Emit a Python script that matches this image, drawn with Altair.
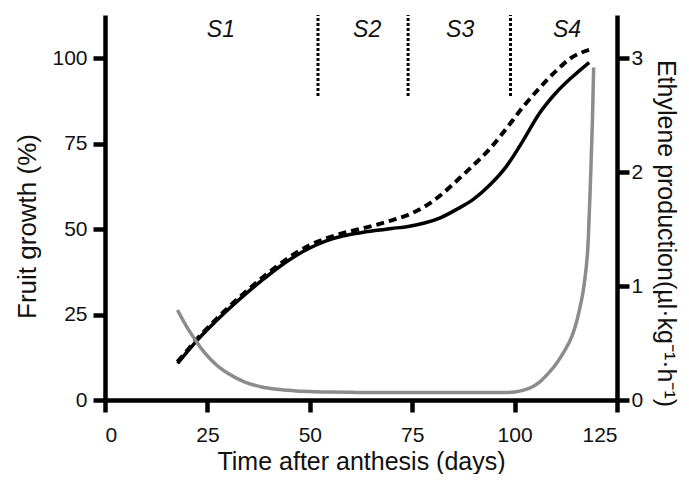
import altair as alt
import pandas as pd

# ---- data ----
days_solid = [17.7, 20, 22, 26, 30, 34, 38, 42, 46, 50, 54, 58, 62, 66, 70, 74, 78, 82, 86, 90, 94, 98, 102, 106, 110, 114, 118.2]
growth_solid = [10.7, 14.0, 16.8, 21.8, 26.4, 30.7, 34.7, 38.5, 41.8, 44.5, 46.6, 48.0, 48.9, 49.6, 50.2, 50.8, 51.8, 53.4, 55.9, 58.8, 63.0, 68.4, 75.8, 83.8, 89.8, 94.5, 98.8]

days_dashed = [17.7, 20, 22, 26, 30, 34, 38, 42, 46, 50, 54, 58, 62, 66, 70, 74, 78, 82, 86, 90, 94, 98, 102, 106, 110, 114, 118.5]
growth_dashed = [11.2, 14.4, 17.2, 22.3, 27.0, 31.3, 35.4, 39.2, 42.6, 45.3, 47.3, 48.8, 50.0, 51.2, 52.6, 54.2, 56.6, 60.0, 64.3, 68.8, 73.6, 79.5, 85.7, 91.2, 96.2, 100.3, 102.6]

days_eth = [17.7, 20, 22, 24, 26, 28, 30, 34, 38, 42, 46, 50, 55, 60, 70, 80, 90, 98, 100, 102, 104, 106, 108, 110, 112, 114, 115, 116, 117, 118, 118.5, 119, 119.3]
ethylene = [0.79, 0.64, 0.53, 0.43, 0.35, 0.285, 0.235, 0.16, 0.117, 0.094, 0.082, 0.075, 0.07, 0.067, 0.065, 0.065, 0.065, 0.066, 0.07, 0.085, 0.11, 0.155, 0.225, 0.31, 0.42, 0.56, 0.67, 0.82, 1.02, 1.42, 1.9, 2.45, 2.92]

stage_bounds = [52, 74, 99]
stage_bound_bottom = 89
stage_labels = ["S1", "S2", "S3", "S4"]
stage_label_x = [28.3, 64.0, 86.7, 112.8]
stage_label_y = 108.4

x_ticks = [0, 25, 50, 75, 100, 125]
left_ticks = [0, 25, 50, 75, 100]
right_ticks = [0, 1, 2, 3]
Y_MAX = 112.7
E_MAX = Y_MAX * 3 / 100

FONT = "Liberation Sans"

df_solid = pd.DataFrame({"x": days_solid, "y": growth_solid})
df_dashed = pd.DataFrame({"x": days_dashed, "y": growth_dashed})
df_eth = pd.DataFrame({"x": days_eth, "e": ethylene})
df_bounds = pd.DataFrame({"x": stage_bounds, "y": [stage_bound_bottom] * len(stage_bounds), "y2": [Y_MAX] * len(stage_bounds)})
df_labels = pd.DataFrame({"x": stage_label_x, "y": [stage_label_y] * len(stage_labels), "t": stage_labels})

common_axis = dict(
    domainColor="black", domainWidth=4.5, tickColor="black", tickWidth=4.5, tickSize=12,
    labelFont=FONT, labelFontSize=21, labelFontWeight="normal", labelColor="#111111",
    titleFont=FONT, titleFontWeight="normal", titleColor="#111111", grid=False,
)

X = alt.X("x:Q", scale=alt.Scale(domain=[0, 125], nice=False),
          axis=alt.Axis(title="Time after anthesis (days)", values=x_ticks, labelPadding=12,
                        titleFontSize=25, titleY=49, **common_axis))
Y = alt.Y("y:Q", scale=alt.Scale(domain=[0, Y_MAX], nice=False),
          axis=alt.Axis(title="Fruit growth (%)", values=left_ticks, labelPadding=6,
                        titleFontSize=26, titleX=-65, titleY=211, **common_axis))

solid = alt.Chart(df_solid).mark_line(color="black", strokeWidth=3.5, interpolate="monotone").encode(x=X, y=Y)
dashed = alt.Chart(df_dashed).mark_line(color="black", strokeWidth=4, strokeDash=[8, 5], interpolate="monotone").encode(x=X, y=Y)
bounds = alt.Chart(df_bounds).mark_rule(color="black", strokeWidth=3, strokeDash=[3, 2]).encode(x=X, y=Y, y2="y2:Q")
labels = alt.Chart(df_labels).mark_text(font=FONT, fontSize=23, fontStyle="italic", color="#111111",
                                        align="center", baseline="middle").encode(x=X, y=Y, text="t:N")

left = alt.layer(solid, dashed, bounds, labels)

E = alt.Y("e:Q", scale=alt.Scale(domain=[0, E_MAX], nice=False),
          axis=alt.Axis(title="Ethylene production(µl·kg⁻¹·h⁻¹)", orient="right", values=right_ticks,
                        labelPadding=2, titleFontSize=25, titleX=35, titleY=218, **common_axis))
eth = alt.Chart(df_eth).mark_line(color="#8c8c8c", strokeWidth=3.5, interpolate="monotone").encode(x=X, y=E)

chart = alt.layer(left, eth).resolve_scale(y="independent").properties(
    width=512, height=385,
    padding={"left": 97, "top": 7, "right": 64, "bottom": 74},
    autosize=alt.AutoSizeParams(type="none"),
).configure_view(stroke=None)

chart.save("out.html", embed_options={"renderer": "svg", "actions": False})
